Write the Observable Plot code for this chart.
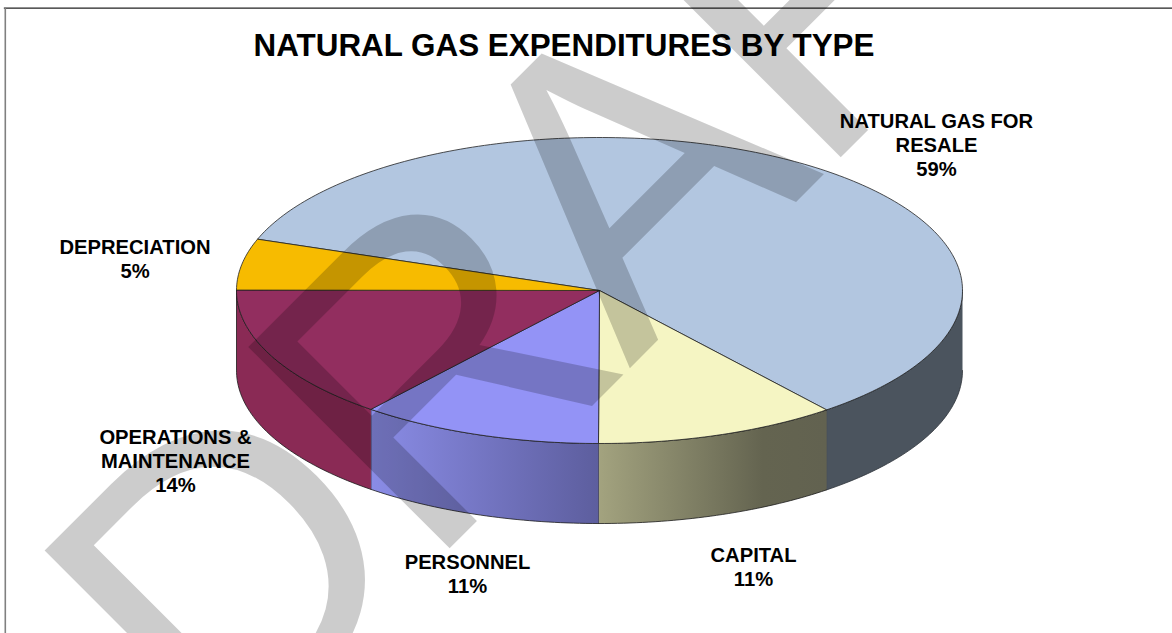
<!DOCTYPE html>
<html>
<head>
<meta charset="utf-8">
<script src="https://cdn.jsdelivr.net/npm/d3@7"></script>
<script src="https://cdn.jsdelivr.net/npm/@observablehq/plot@0.6"></script>
<style>html,body{margin:0;padding:0;background:#fff}svg{display:block}</style>
</head>
<body>
<div id="chart"></div>
<script>
// Data (clockwise, starting at the back-left edge of the gas slice)
const categories = ["NATURAL GAS FOR\nRESALE", "CAPITAL", "PERSONNEL", "OPERATIONS &\nMAINTENANCE", "DEPRECIATION"];
const shares = [58.8, 10.8, 10.8, 14.2, 5.4];
const topColors = ["#b2c6e0", "#f5f5c3", "#9393f6", "#922e5f", "#f7bb00"];
const labelX = [936, 753, 467, 175, 134.5];
const labelY = [110.4, 544.4, 551.4, 426.4, 236.4];
const startAngle = 289.6;   // degrees clockwise from 12 o'clock
const depth = 0.523;        // wall height in units of the vertical radius

const rad = d => d * Math.PI / 180;
const pt = (deg, drop = 0) => ({x: Math.sin(rad(deg)), y: Math.cos(rad(deg)) - drop});
function arcPts(a0, a1, drop = 0) {
  const n = Math.max(2, Math.ceil(Math.abs(a1 - a0)));
  return d3.range(n + 1).map(i => pt(a0 + (a1 - a0) * i / n, drop));
}
let acc = startAngle;
const slices = shares.map((s, i) => {
  const a0 = acc, a1 = acc + s * 3.6;
  acc = a1;
  return {i, a0, a1, top: [{x: 0, y: 0}, ...arcPts(a0, a1)]};
});
function wall(lo, hi) {
  return [...arcPts(lo, hi), ...arcPts(hi, lo, depth)];
}
// visible front walls: 90..270 degrees, unrolled from the slices
const wallGas = wall(90, (startAngle + shares[0] * 3.6) % 360);
const wallCapital = wall(slices[1].a0 - 360, slices[1].a1 - 360);
const wallPersonnel = wall(slices[2].a0 - 360, slices[2].a1 - 360);
const wallOps = wall(slices[3].a0 - 360, slices[3].a1 - 360);

function gradient(defs, id, stops) {
  const g = defs.append("linearGradient").attr("id", id).attr("x1", 0).attr("x2", 1).attr("y1", 0).attr("y2", 0);
  stops.forEach(([o, c]) => g.append("stop").attr("offset", o).attr("stop-color", c));
}
const defsMark = () => {
  const svg = d3.create("svg:g");
  const defs = svg.append("defs");
  gradient(defs, "gradCapital", [[0, "#a3a37f"], [0.72, "#646450"], [1, "#626250"]]);
  gradient(defs, "gradPersonnel", [[0, "#8a8ce6"], [1, "#5d5e9e"]]);
  return svg.node();
};

const wallOpts = {x: "x", y: "y", stroke: "#1a1a1a", strokeWidth: 0.8, strokeLinejoin: "round"};
const fixedText = (text, dx, dy, o) => Plot.text([text], {
  text: d => d, frameAnchor: "top-left", dx, dy, fontFamily: "Liberation Sans, Arial, sans-serif",
  fontWeight: "bold", fill: "#000", lineAnchor: "top", textAnchor: "middle", ...o
});

const chart = Plot.plot({
  width: 1172, height: 633,
  marginTop: 0, marginRight: 0, marginBottom: 0, marginLeft: 0,
  style: {background: "#fff", overflow: "hidden"},
  x: {domain: [-1, 1], range: [236, 962], axis: null},
  y: {domain: [1, -1], range: [137, 443], axis: null},
  marks: [
    defsMark,
    Plot.frame({anchor: "top", stroke: "#222", strokeWidth: 1.3, insetTop: 7.7, insetLeft: 4}),
    Plot.frame({anchor: "left", stroke: "#808080", strokeWidth: 1.6, insetLeft: 4.8, insetTop: 8}),
    Plot.line(wallGas, {...wallOpts, fill: "#4b545e", stroke: "#2e333a"}),
    Plot.line(wallCapital, {...wallOpts, fill: "url(#gradCapital)"}),
    Plot.line(wallPersonnel, {...wallOpts, fill: "url(#gradPersonnel)"}),
    Plot.line(wallOps, {...wallOpts, fill: "#8a2a55"}),
    ...slices.map(s => Plot.line([...s.top, s.top[0]], {
      x: "x", y: "y", fill: topColors[s.i], stroke: "#222", strokeWidth: 0.8, strokeLinejoin: "round"
    })),
    ...categories.map((c, i) => fixedText(`${c}\n${Math.round(shares[i])}%`, labelX[i], labelY[i], {fontSize: 20.2, lineHeight: 1.19})),
    fixedText("NATURAL GAS EXPENDITURES BY TYPE", 563.5, 33, {fontSize: 31.4}),
    Plot.text(["DRAFT"], {
      text: d => d, frameAnchor: "top-left", dx: 221.5, dy: 775.5, rotate: -45, fontSize: 414,
      fontFamily: "Liberation Sans, Arial, sans-serif", fill: "#000", fillOpacity: 0.2,
      textAnchor: "start", lineAnchor: "bottom"
    })
  ]
});
d3.select(chart).selectAll("text").filter(function () { return this.textContent === "DRAFT"; }).style("letter-spacing", "-11px");
document.getElementById("chart").appendChild(chart);
</script>
</body>
</html>
